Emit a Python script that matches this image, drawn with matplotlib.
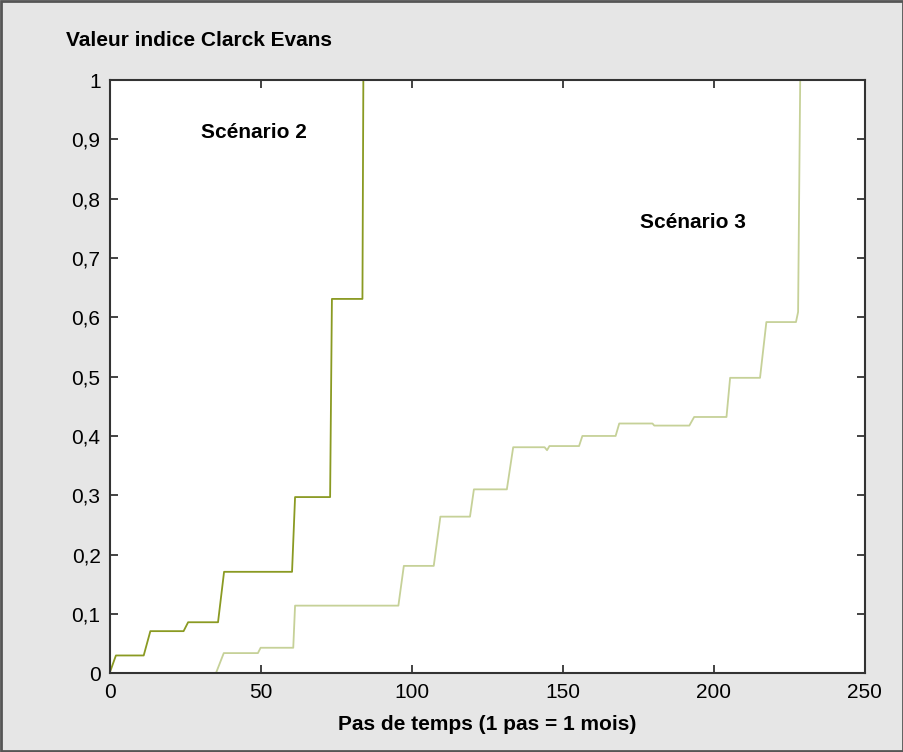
import numpy as np
import matplotlib.pyplot as plt
from matplotlib.patches import Rectangle

plt.rcParams.update({
    'font.family': ['Liberation Sans', 'DejaVu Sans'],
    'font.size': 15,
})

# Scenario 2 (vertices)
s2_x = [0, 2.1, 11.3, 13.5, 24.5, 26.0, 35.9, 37.9, 60.4, 61.4, 73.0, 73.6, 83.7, 84.0]
s2_y = [0, 0.030, 0.030, 0.071, 0.071, 0.086, 0.086, 0.171, 0.171, 0.297, 0.297, 0.631, 0.631, 1.0]

# Scenario 3
s3_x = [35.2, 37.8, 49.1, 50.0, 60.8, 61.4, 95.6, 97.4, 107.3, 109.5, 119.3, 120.6,
        131.5, 133.6, 144.0, 144.8, 145.6, 155.4, 156.5, 167.5, 168.7, 179.7, 180.3,
        191.9, 193.5, 204.2, 205.4, 215.3, 217.4, 227.2, 227.9, 228.6]
s3_y = [0, 0.034, 0.034, 0.043, 0.043, 0.114, 0.114, 0.181, 0.181, 0.264, 0.264, 0.310,
        0.310, 0.381, 0.381, 0.376, 0.383, 0.383, 0.400, 0.400, 0.421, 0.421, 0.4175,
        0.4175, 0.432, 0.432, 0.498, 0.498, 0.592, 0.592, 0.609, 1.0]

x_ticks = [0, 50, 100, 150, 200, 250]
y_ticks = [0, 0.1, 0.2, 0.3, 0.4, 0.5, 0.6, 0.7, 0.8, 0.9, 1]
y_tick_labels = ['0', '0,1', '0,2', '0,3', '0,4', '0,5', '0,6', '0,7', '0,8', '0,9', '1']

fig = plt.figure(figsize=(9.04, 7.52), dpi=100, facecolor='#e6e6e6')
fig.patches.append(Rectangle((0.001, 0.001), 0.998, 0.998, transform=fig.transFigure,
                             fill=False, edgecolor='#555555', linewidth=2))
ax = fig.add_axes([0.1212, 0.1047, 0.8355, 0.7889])
ax.set_facecolor('white')

ax.plot(s2_x, s2_y, color='#8a9a22', linewidth=1.3)
ax.plot(s3_x, s3_y, color='#c6d198', linewidth=1.3)

ax.set_xlim(0, 250)
ax.set_ylim(0, 1)
ax.set_xticks(x_ticks)
ax.set_yticks(y_ticks)
ax.set_yticklabels(y_tick_labels)
ax.tick_params(direction='in', length=6, width=1.2, top=True, right=True,
               labelsize=15, color='#222222')
ax.tick_params(axis='y', pad=6.5)
ax.tick_params(axis='x', pad=7)
for sp in ax.spines.values():
    sp.set_linewidth(1.5)
    sp.set_color('#333333')

fig.text(487 / 904, 1 - 730 / 752, 'Pas de temps (1 pas = 1 mois)', fontsize=15,
         fontweight='bold', va='baseline', ha='center')
fig.text(66 / 904, 1 - 46 / 752, 'Valeur indice Clarck Evans', fontsize=15,
         fontweight='bold', va='baseline', ha='left')

ax.text(30.4, 0.902, 'Scénario 2', fontsize=15, fontweight='bold', va='baseline', ha='left')
ax.text(175.7, 0.750, 'Scénario 3', fontsize=15, fontweight='bold', va='baseline', ha='left')

fig.savefig('out.png', dpi=100, facecolor=fig.get_facecolor())
